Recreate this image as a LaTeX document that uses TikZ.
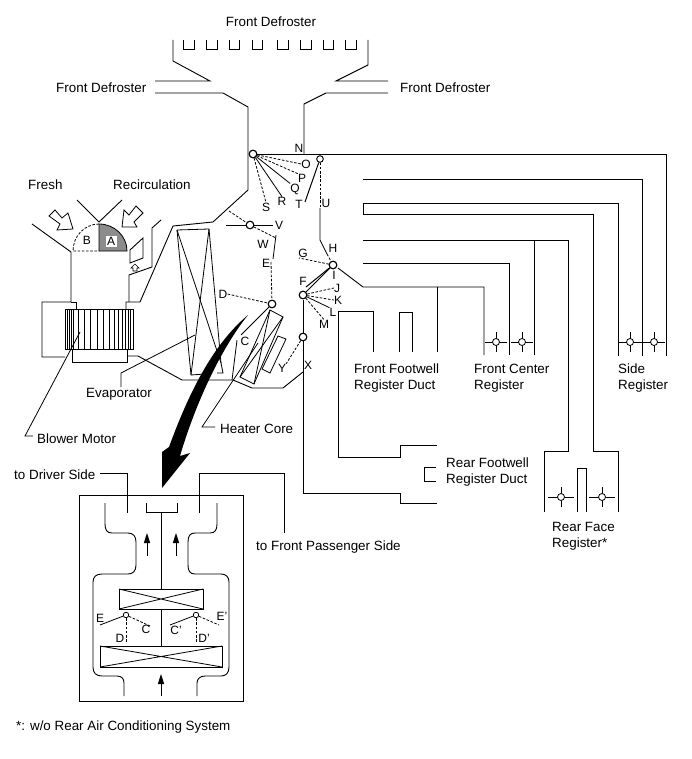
\documentclass[tikz,border=0pt]{standalone}
\usepackage{fontspec}
\setmainfont{Liberation Sans}
\definecolor{flap_gray}{HTML}{8C8C8C}
\tikzset{
  duct/.style={line width=0.9pt, line join=miter},
  door/.style={line width=0.8pt},
  doordash/.style={line width=0.8pt, dash pattern=on 2.6pt off 1.6pt},
  pivot/.style={circle, draw, line width=1pt, fill=white, inner sep=0pt, minimum size=7.5pt},
  pivotsmall/.style={circle, draw, line width=0.8pt, fill=white, inner sep=0pt, minimum size=5.5pt},
  letter/.style={font=\fontsize{12}{12}\selectfont, inner sep=0pt},
  caption/.style={font=\fontsize{13.4}{16}\selectfont, inner sep=0pt, align=left, yshift=-1.5pt},
  block/.style={line width=0.8pt, fill=white},
}
\newcommand{\registerdial}[3]{% x, y, half width
  \draw[door] (#1-#3,#2) -- (#1+#3,#2);
  \draw[door] (#1,#2-10) -- (#1,#2+10);
  \node[pivotsmall, minimum size=7pt] at (#1,#2) {};
}
\begin{document}
\begin{tikzpicture}[x=1pt,y=-1pt]
        \useasboundingbox (0,0) rectangle (691,759);
        % Defroster outlet
        \draw[duct] (173,40) -- (173,61) -- (210,81) -- (155,81);
        \draw[duct] (155,93) -- (223,93) -- (248,107) -- (248,190) -- (213,222) -- (173,226) -- (140,302) -- (126,302) -- (126,309);
        \draw[duct] (368,40) -- (368,65) -- (336,81) -- (388,81);
        \draw[duct] (388,93) -- (326,93) -- (304,104) -- (304,154);
        \foreach \x/\xb in {183/194,206/217,229/239,252/262,277/288,300/311,323/333,345/356}
          \draw[line width=0.7pt] (\x,40) -- (\x,49) -- (\xb,49) -- (\xb,40);
        % Side and center ducts
        \draw[duct] (304,154) -- (666,154) -- (666,356);
        \draw[duct] (363,179) -- (642,179) -- (642,356);
        \draw[duct] (618,356) -- (618,203) -- (363,203) -- (363,214) -- (593,214) -- (593,451) -- (618,451) -- (618,512);
        \draw[duct] (363,240) -- (568,240) -- (568,451) -- (544,451) -- (544,512);
        \draw[duct] (534,240) -- (534,355);
        \draw[duct] (363,263) -- (509,263) -- (509,355);
        \draw[duct] (338,268) -- (363,287) -- (484,287) -- (484,355);
        \draw[duct] (437,287) -- (437,352);
        \draw[duct] (577,512) -- (577,468) -- (586,468) -- (586,512);
        % Footwell ducts
        \draw[duct] (373,352) -- (373,311) -- (338,311) -- (338,457) -- (400,457) -- (400,445) -- (437,445);
        \draw[duct] (399,352) -- (399,312) -- (412,312) -- (412,352);
        \draw[duct] (303,300) -- (303,493) -- (400,493) -- (400,503) -- (437,503);
        \draw[duct] (436,467) -- (424,467) -- (424,481) -- (436,481);
        % Registers
        \registerdial{496}{342}{11}
        \registerdial{522}{342}{11}
        \registerdial{630}{342}{12}
        \registerdial{654}{342}{11}
        \registerdial{561}{497}{13}
        \registerdial{602}{497}{13}
        % Blower case
        \draw[duct] (32,224) -- (71,252) -- (71,302) -- (42,302) -- (42,357) -- (65,357);
        \draw[duct] (71,302) -- (76,302) -- (76,309);
        \draw[duct] (77,200) -- (99,222) -- (122,200);
        \draw[duct] (129,302) -- (129,275) -- (152,267) -- (152,228) -- (161,220);
        \draw[duct] (130,250) -- (143,238) -- (143,258) -- (130,263) -- cycle;
        \draw[duct] (127,356) -- (138,356) -- (182,380) -- (233,380) -- (252,388) -- (283,388) -- (303,372);
        % Flaps A and B
        \fill[flap_gray] (99,224) arc (-90:0:28 and 27) -- (99,251) -- cycle;
        \draw[door] (99,224) arc (-90:0:28 and 27) -- (99,251) -- cycle;
        \draw[doordash] (99,224) arc (-90:-180:26 and 27) -- (99,251);
        \node[letter, fill=white, minimum width=11pt, minimum height=11pt] (flapa) at (111,241) {A};
        \node[letter] (flapb) at (87,240) {B};
        % Air inlet arrows
        \draw[block] (49,216) -- (55,210) -- (62,218) -- (68,213) -- (73,229) -- (57,230) -- (60,224) -- cycle;
        \draw[block] (136,206) -- (143,213) -- (134,222) -- (137,227) -- (122,227) -- (124,210) -- (129,215) -- cycle;
        \draw[block, line width=0.7pt] (135,264) -- (139,268) -- (137,268) -- (137,271) -- (133,271) -- (133,268) -- (131,268) -- cycle;
        % Blower Motor
        \draw[duct] (65,309) rectangle (133,349);
        \draw[duct] (72,349) rectangle (127,362);
        \foreach \x in {67,69,71,73,78,84,90,97,103,109,114,118,122,125,128,130}
          \draw[line width=0.6pt] (\x,309) -- (\x,349);
        % Evaporator
        \draw[door] (177,230) -- (209,229) -- (221,363) -- (223,373) -- (217,373);
        \draw[door] (177,230) -- (191,375) -- (205,374);
        \draw[door] (177,230) -- (221,363);
        \draw[door] (209,229) -- (191,375);
        % Heater Core
        \draw[door] (270,310) -- (283,317) -- (254,384) -- (240,377) -- cycle;
        \draw[door] (270,310) -- (254,384);
        \draw[door] (283,317) -- (240,377);
        \draw[door] (278,336) -- (286,339) -- (270,373) -- (262,369) -- cycle;
        \draw[door] (237,340) -- (232,380);
        % Damper pivots
        \node[pivot] (defrost) at (253,154) {};
        \node[pivotsmall, minimum size=6.5pt] (vent) at (320,159) {};
        \node[pivot] (inlet) at (250,225) {};
        \node[pivot] (mixup) at (272,304) {};
        \node[pivot] (center) at (333,265) {};
        \node[pivot] (foot) at (303,295) {};
        \node[pivot] (rearpivot) at (303,337) {};
        % Letter labels
        \foreach \nm/\tx/\x/\y in {nlab/N/299/148,olab/O/306/164,plab/P/302/178,qlab/Q/295/189,rlab/R/282/201,slab/S/266/207,tlab/T/299/204,ulab/U/326/203,hlab/H/333/248,glab/G/303/253,flab/F/303/281,ilab/I/334/275,jlab/J/337/288,klab/K/338/300,llab/L/333/312,mlab/M/324/324,vlab/V/279/225,wlab/W/263/244,elab/E/266/263,dlab/D/223/294,clab/C/245/341,ylab/Y/282/368,xlab/X/308/365}
          \node[letter] (\nm) at (\x,\y) {\tx};
        % Damper doors
        \draw[door] (defrost) -- (304,154);
        \draw[doordash] (defrost) -- (olab.west);
        \draw[doordash] (defrost) -- (plab.north west);
        \draw[door] (defrost) -- (qlab.north west);
        \draw[door] (defrost) -- (rlab.north);
        \draw[doordash] (defrost) -- (slab.north);
        \draw[door, line width=1pt] (vent) -- (305,202);
        \draw[doordash] (vent) -- (320,208);
        \draw[door] (320,208) -- (320,240) -- (327,254);
        \draw[doordash] (327,254) -- (center);
        \draw[doordash] (center) -- (299,258);
        \draw[door, line width=1pt] (center) -- (306,287);
        \draw[door, line width=1pt] (center) -- (foot);
        \draw[doordash] (foot) -- (jlab.west);
        \draw[doordash] (foot) -- (klab.west);
        \draw[door] (foot) -- (llab.north west);
        \draw[doordash] (foot) -- (mlab.north);
        \draw[doordash] (rearpivot) -- (ylab.north east);
        \draw[door] (226,225) -- (inlet) -- (273,225);
        \draw[doordash] (229,211) -- (inlet) -- (276,238);
        \draw[door] (276,235) -- (273,259);
        \draw[doordash] (271,262) -- (mixup);
        \draw[doordash] (dlab.east) -- (mixup);
        \draw[door, line width=1pt] (mixup) -- (241,335);
        \node[pivot] at (center) {};
        \node[pivot] at (foot) {};
        \node[pivot] at (rearpivot) {};
        \node[pivot] at (defrost) {};
        \node[pivot] at (inlet) {};
        \node[pivot] at (mixup) {};
        \node[pivotsmall, minimum size=6.5pt] at (vent) {};
        % Leader lines
        \draw[door] (195,335) -- (121,373) -- (121,387);
        \draw[door] (80,332) -- (25,436) -- (33,436);
        \draw[door] (258,343) -- (202,427) -- (215,427);
        % Big arrow
        \fill (248,315) .. controls (212,345) and (188,395) .. (169,447) -- (162,452) -- (162,488) -- (190,453) -- (180,456) .. controls (195,405) and (220,350) .. (248,315) -- cycle;
        % Captions
        \node[caption, anchor=center] (topdef) at (271,20.5) {Front Defroster};
        \node[caption, anchor=west] (leftdef) at (56,86.5) {Front Defroster};
        \node[caption, anchor=west] (rightdef) at (400,86.5) {Front Defroster};
        \node[caption, anchor=west] (fresh) at (28,183.5) {Fresh};
        \node[caption, anchor=west] (recirc) at (113,183.5) {Recirculation};
        \node[caption, anchor=west] (evap) at (86,393) {Evaporator};
        \node[caption, anchor=west] (blower) at (37,437) {Blower Motor};
        \node[caption, anchor=west] (heater) at (220,427) {Heater Core};
        \node[caption, anchor=west] (footduct) at (354,376.5) {Front Footwell\\Register Duct};
        \node[caption, anchor=west] (centerreg) at (474,376.5) {Front Center\\Register};
        \node[caption, anchor=west] (sidereg) at (618,376.5) {Side\\Register};
        \node[caption, anchor=west] (rearduct) at (446,471) {Rear Footwell\\Register Duct};
        \node[caption, anchor=west] (rearface) at (552,535) {Rear Face\\Register*};
        \node[caption, anchor=west] (todriver) at (14,473) {to Driver Side};
        \node[caption, anchor=west] (topass) at (256,546) {to Front Passenger Side};
        \node[caption, anchor=west] (note) at (16,726) {*: w/o Rear Air Conditioning System};
        % Section view
        \coordinate (driverend) at (100,473);
        \draw[duct] (79,495) rectangle (243,701);
        \draw[duct] (driverend) -- (127,473) -- (127,513);
        \draw[duct] (199,513) -- (199,473) -- (284,473) -- (284,533);
        \draw[duct] (146,503) -- (146,512) -- (177,512) -- (177,503);
        \draw[duct] (161,512) -- (161,589);
        \draw[duct] (161,609) -- (161,646);
        \draw[duct] (119,589) rectangle (203,609);
        \draw[door] (119,589) -- (203,609) (203,589) -- (119,609);
        \draw[duct] (100,646) rectangle (222,667);
        \draw[door] (100,646) -- (222,667) (222,646) -- (100,667);
        \draw[duct] (105,503) -- (105,524) .. controls (105,530) and (107,533) .. (112,533) -- (128,533) .. controls (133,533) and (136,536) .. (136,542) -- (136,565) .. controls (136,571) and (133,574) .. (128,574) -- (102,574) .. controls (96,574) and (93,577) .. (93,582) -- (93,667) .. controls (93,673) and (96,676) .. (102,676) -- (117,676) .. controls (122,676) and (124,679) .. (124,683) -- (124,696);
        \draw[duct] (217,503) -- (217,524) .. controls (217,530) and (215,533) .. (210,533) -- (195,533) .. controls (190,533) and (188,536) .. (188,542) -- (188,565) .. controls (188,571) and (190,574) .. (195,574) -- (221,574) .. controls (226,574) and (229,577) .. (229,582) -- (229,667) .. controls (229,673) and (226,676) .. (221,676) -- (205,676) .. controls (200,676) and (197,679) .. (197,683) -- (197,696);
        \foreach \x/\ya/\yb in {147/556/533,176/556/533,161/696/674}{
          \draw[line width=0.7pt] (\x,\ya) -- (\x,\yb+4);
          \fill (\x,\yb) -- (\x-3.2,\yb+10) -- (\x+3.2,\yb+10) -- cycle;
        }
        % Section view dampers
        \node[pivotsmall] (mixleft) at (126,615) {};
        \node[pivotsmall] (mixright) at (196,615) {};
        \draw[door] (100,625) -- (mixleft);
        \draw[doordash] (mixleft) -- (150,626);
        \draw[doordash] (mixleft) -- (126,642);
        \draw[door] (170,625) -- (mixright);
        \draw[doordash] (mixright) -- (219,625);
        \draw[doordash] (mixright) -- (196,642);
        \foreach \nm/\tx/\x/\y in {secE/E/100/618,secC/C/146/629,secD/D/120/638,secCp/C'/176/630,secDp/D'/204/638,secEp/E'/222/616}
          \node[letter] (\nm) at (\x,\y) {\tx};
    \end{tikzpicture}
\end{document}
